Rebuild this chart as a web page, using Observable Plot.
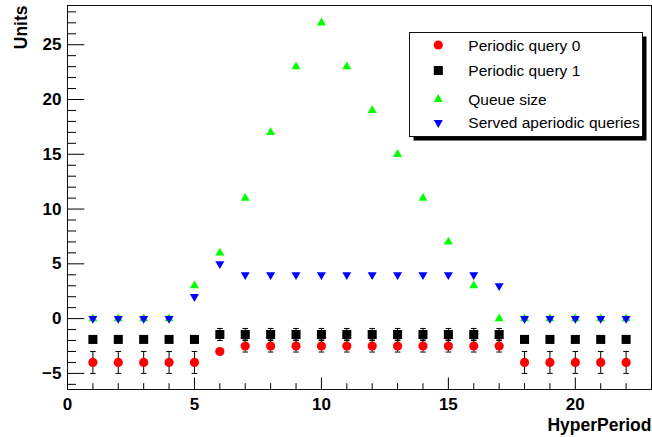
<!DOCTYPE html>
<html>
<head>
<meta charset="utf-8">
<script src="https://cdn.jsdelivr.net/npm/d3@7"></script>
<script src="https://cdn.jsdelivr.net/npm/@observablehq/plot@0.6"></script>
<style>
  body { margin: 0; background: #fff; }
  #wrap { position: relative; width: 652px; height: 437px; overflow: hidden; }
  #wrap svg.overlay { position: absolute; left: 0; top: 0; pointer-events: none; }
</style>
</head>
<body>
<div id="wrap"></div>
<script>
// ---- data ----
const hyperPeriod      = [1, 2, 3, 4, 5, 6, 7, 8, 9, 10, 11, 12, 13, 14, 15, 16, 17, 18, 19, 20, 21, 22];
const periodicQuery0   = [-4, -4, -4, -4, -4, -3, -2.5, -2.5, -2.5, -2.5, -2.5, -2.5, -2.5, -2.5, -2.5, -2.5, -2.5, -4, -4, -4, -4, -4];
const periodicQuery0Err= [1, 1, 1, 1, 1, 0, 0.55, 0.55, 0.55, 0.55, 0.55, 0.55, 0.55, 0.55, 0.55, 0.55, 0.55, 1, 1, 1, 1, 1];
const periodicQuery1   = [-1.9, -1.9, -1.9, -1.9, -1.9, -1.45, -1.45, -1.45, -1.45, -1.45, -1.45, -1.45, -1.45, -1.45, -1.45, -1.45, -1.45, -1.9, -1.9, -1.9, -1.9, -1.9];
const periodicQuery1Err= [0, 0, 0, 0, 0, 0.55, 0.55, 0.55, 0.55, 0.55, 0.55, 0.55, 0.55, 0.55, 0.55, 0.55, 0.55, 0, 0, 0, 0, 0];
const queueSize        = [0, 0, 0, 0, 3, 6, 11, 17, 23, 27, 23, 19, 15, 11, 7, 3, 0, 0, 0, 0, 0, 0];
const servedAperiodic  = [0, 0, 0, 0, 2, 5, 4, 4, 4, 4, 4, 4, 4, 4, 4, 4, 3, 0, 0, 0, 0, 0];

const seriesNames  = ["Periodic query 0", "Periodic query 1", "Queue size", "Served aperiodic queries"];
const seriesColors = ["#ff0000", "#000000", "#00ff00", "#0000ff"];
const seriesSymbols = ["circle", "square", "triangle", "triangleDown"];

const xMajorTicks = [0, 5, 10, 15, 20];
const xMinorTicks = [1, 2, 3, 4, 6, 7, 8, 9, 11, 12, 13, 14, 16, 17, 18, 19, 21, 22, 23];
const yMajorTicks = [-5, 0, 5, 10, 15, 20, 25];
const yMinorTicks = [-6, -4, -3, -2, -1, 1, 2, 3, 4, 6, 7, 8, 9, 11, 12, 13, 14, 16, 17, 18, 19, 21, 22, 23, 24, 26, 27, 28];
const xTitle = "HyperPeriod";
const yTitle = "Units";

// ---- layout ----
const W = 652, H = 437;
const M = {top: 5, right: 1, bottom: 48, left: 67};
const innerW = W - M.left - M.right;
const innerH = H - M.top - M.bottom;
const font = "'Liberation Sans', Arial, Helvetica, sans-serif";

const rows = (ys, errs) => hyperPeriod.map((x, i) => ({x, y: ys[i], e: errs ? errs[i] : 0}));
const q0 = rows(periodicQuery0, periodicQuery0Err);
const q1 = rows(periodicQuery1, periodicQuery1Err);
const qs = rows(queueSize);
const sv = rows(servedAperiodic);
const errRows = [...q0, ...q1].filter(d => d.e > 0);

const capSymbol = {draw(ctx) { ctx.moveTo(-2.8, 0); ctx.lineTo(2.8, 0); }};

const chart = Plot.plot({
  width: W, height: H,
  marginTop: M.top, marginRight: M.right, marginBottom: M.bottom, marginLeft: M.left,
  style: {fontFamily: font, fontSize: "17px", fontWeight: "bold", background: "#fff", color: "#000"},
  x: {domain: [0, 23], axis: null},
  y: {domain: [-6.47, 28.58], axis: null},
  marks: [
    Plot.frame({stroke: "#111", strokeWidth: 1}),
    Plot.tickX(xMinorTicks, {x: d => d, insetTop: innerH - 5.8, stroke: "#000"}),
    Plot.tickX(xMajorTicks, {x: d => d, insetTop: innerH - 11.6, stroke: "#000"}),
    Plot.tickY(yMinorTicks, {y: d => d, insetRight: innerW - 9, stroke: "#000"}),
    Plot.tickY(yMajorTicks, {y: d => d, insetRight: innerW - 17.3, stroke: "#000"}),
    Plot.axisX(xMajorTicks, {tickSize: 0, tickPadding: 8, label: null, fontSize: 17, fontWeight: "bold"}),
    Plot.axisY(yMajorTicks, {tickSize: 0, tickPadding: 6, label: null, fontSize: 17, fontWeight: "bold"}),
    Plot.text([yTitle], {text: d => d, frameAnchor: "top-left", rotate: -90, textAnchor: "end", lineAnchor: "bottom", dx: -40.3, fontSize: 17.5, fontWeight: "bold"}),
    Plot.text([xTitle], {text: d => d, frameAnchor: "bottom-right", textAnchor: "end", lineAnchor: "bottom", dy: 41.7, fontSize: 17.5, fontWeight: "bold"}),
    // error bars
    Plot.ruleX(errRows, {x: "x", y1: d => d.y - d.e, y2: d => d.y + d.e, stroke: "#000", strokeWidth: 1}),
    Plot.dot(errRows, {x: "x", y: d => d.y - d.e, symbol: capSymbol, stroke: "#000", strokeWidth: 1, fill: "none"}),
    Plot.dot(errRows, {x: "x", y: d => d.y + d.e, symbol: capSymbol, stroke: "#000", strokeWidth: 1, fill: "none"}),
    // markers
    Plot.dot(q0, {x: "x", y: "y", symbol: "circle", r: 4.6, fill: seriesColors[0]}),
    Plot.dot(q1, {x: "x", y: "y", symbol: "square", r: 5.1, fill: seriesColors[1]}),
    Plot.dot(qs, {x: "x", y: "y", symbol: "triangle", r: 3.35, fill: seriesColors[2]}),
    Plot.dot(sv, {x: "x", y: "y", symbol: "triangle", rotate: 180, r: 3.35, fill: seriesColors[3]})
  ]
});

const wrap = document.getElementById("wrap");
wrap.appendChild(chart);

// ---- legend (overlay) ----
const legendBox = {x: 409.5, y: 32.5, w: 233, h: 104, shadow: 4};
const legendRowY = [45, 70.5, 99.3, 122.7];
const legendMarkerX = 438.3, legendTextX = 468.3;

const lg = d3.select(wrap).append("svg")
  .attr("class", "overlay").attr("width", W).attr("height", H);
lg.append("rect").attr("x", legendBox.x + legendBox.shadow).attr("y", legendBox.y + legendBox.shadow)
  .attr("width", legendBox.w).attr("height", legendBox.h).attr("fill", "#000");
lg.append("rect").attr("x", legendBox.x).attr("y", legendBox.y)
  .attr("width", legendBox.w).attr("height", legendBox.h).attr("fill", "#fff").attr("stroke", "#111");

const symSize = {circle: Math.PI * 4.6 * 4.6, square: Math.PI * 5.1 * 5.1, triangle: Math.PI * 3.35 * 3.35, triangleDown: Math.PI * 3.35 * 3.35};
seriesNames.forEach((name, i) => {
  const cy = legendRowY[i];
  const s = seriesSymbols[i];
  const type = s === "circle" ? d3.symbolCircle : s === "square" ? d3.symbolSquare : d3.symbolTriangle;
  lg.append("path")
    .attr("d", d3.symbol(type, symSize[s])())
    .attr("transform", `translate(${legendMarkerX},${cy})` + (s === "triangleDown" ? " rotate(180)" : ""))
    .attr("fill", seriesColors[i]);
  lg.append("text").attr("x", legendTextX).attr("y", cy + 5.6)
    .attr("font-family", font).attr("font-size", "15.5px").attr("fill", "#000")
    .text(name);
});
</script>
</body>
</html>
